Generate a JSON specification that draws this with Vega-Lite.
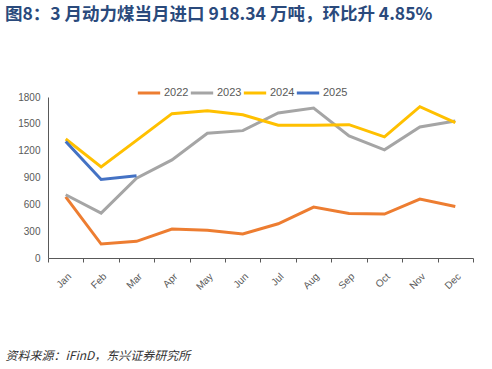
{
  "$schema": "https://vega.github.io/schema/vega-lite/v6.json",
  "width": 425,
  "height": 161,
  "autosize": {"type": "none"},
  "padding": {"left": 48, "top": 97, "right": 19, "bottom": 111},
  "background": "white",
  "title": {
    "text": "图8：3 月动力煤当月进口 918.34 万吨，环比升 4.85%",
    "anchor": "start",
    "frame": "group",
    "dx": -43,
    "offset": 57,
    "font": "Noto Sans CJK SC",
    "fontSize": 17.5,
    "fontWeight": "bold",
    "color": "#2A4A7C"
  },
  "config": {"view": {"stroke": null}},
  "data": {
    "values": [
      {"m": "Jan", "y": "2022", "v": 684}, {"m": "Feb", "y": "2022", "v": 156}, {"m": "Mar", "y": "2022", "v": 186},
      {"m": "Apr", "y": "2022", "v": 324}, {"m": "May", "y": "2022", "v": 309}, {"m": "Jun", "y": "2022", "v": 268},
      {"m": "Jul", "y": "2022", "v": 383}, {"m": "Aug", "y": "2022", "v": 569}, {"m": "Sep", "y": "2022", "v": 498},
      {"m": "Oct", "y": "2022", "v": 491}, {"m": "Nov", "y": "2022", "v": 658}, {"m": "Dec", "y": "2022", "v": 576},
      {"m": "Jan", "y": "2023", "v": 707}, {"m": "Feb", "y": "2023", "v": 502}, {"m": "Mar", "y": "2023", "v": 893},
      {"m": "Apr", "y": "2023", "v": 1097}, {"m": "May", "y": "2023", "v": 1395}, {"m": "Jun", "y": "2023", "v": 1424},
      {"m": "Jul", "y": "2023", "v": 1621}, {"m": "Aug", "y": "2023", "v": 1677}, {"m": "Sep", "y": "2023", "v": 1365},
      {"m": "Oct", "y": "2023", "v": 1209}, {"m": "Nov", "y": "2023", "v": 1465}, {"m": "Dec", "y": "2023", "v": 1532},
      {"m": "Jan", "y": "2024", "v": 1331}, {"m": "Feb", "y": "2024", "v": 1019}, {"m": "Mar", "y": "2024", "v": 1315},
      {"m": "Apr", "y": "2024", "v": 1614}, {"m": "May", "y": "2024", "v": 1647}, {"m": "Jun", "y": "2024", "v": 1602},
      {"m": "Jul", "y": "2024", "v": 1484}, {"m": "Aug", "y": "2024", "v": 1484}, {"m": "Sep", "y": "2024", "v": 1491},
      {"m": "Oct", "y": "2024", "v": 1354}, {"m": "Nov", "y": "2024", "v": 1692}, {"m": "Dec", "y": "2024", "v": 1514},
      {"m": "Jan", "y": "2025", "v": 1302}, {"m": "Feb", "y": "2025", "v": 878}, {"m": "Mar", "y": "2025", "v": 918.34}
    ]
  },
  "mark": {"type": "line", "strokeWidth": 3},
  "encoding": {
    "x": {
      "field": "m",
      "type": "ordinal",
      "sort": ["Jan", "Feb", "Mar", "Apr", "May", "Jun", "Jul", "Aug", "Sep", "Oct", "Nov", "Dec"],
      "scale": {"type": "band", "paddingInner": 0, "paddingOuter": 0},
      "axis": {
        "title": "资料来源：iFinD，东兴证券研究所",
        "titleFont": "Noto Sans CJK SC",
        "titleFontStyle": "italic",
        "titleFontWeight": "normal",
        "titleFontSize": 12,
        "titleColor": "#333333",
        "titleAnchor": "start",
        "titleAlign": "left",
        "titleBaseline": "middle",
        "titleX": -43,
        "titleY": 97,
        "tickBand": "extent",
        "tickSize": 4,
        "tickColor": "#595959",
        "domainColor": "#595959",
        "domainWidth": 1,
        "labelAngle": -45,
        "labelFont": "Liberation Sans",
        "labelFontSize": 10,
        "labelColor": "#595959",
        "labelPadding": 9,
        "grid": false
      }
    },
    "y": {
      "field": "v",
      "type": "quantitative",
      "scale": {"domain": [0, 1800]},
      "axis": {
        "title": null,
        "values": [0, 300, 600, 900, 1200, 1500, 1800],
        "format": "d",
        "ticks": false,
        "grid": false,
        "domainColor": "#595959",
        "labelFont": "Liberation Sans",
        "labelFontSize": 10,
        "labelColor": "#595959",
        "labelPadding": 8
      }
    },
    "color": {
      "field": "y",
      "type": "nominal",
      "scale": {"domain": ["2022", "2023", "2024", "2025"], "range": ["#ED7D31", "#A5A5A5", "#FFC000", "#4472C4"]},
      "legend": {
        "title": null,
        "orient": "none",
        "direction": "horizontal",
        "legendX": 88,
        "legendY": -17,
        "symbolType": "stroke",
        "symbolSize": 500,
        "symbolStrokeWidth": 3,
        "labelFont": "Liberation Sans",
        "labelFontSize": 11,
        "labelColor": "#595959",
        "labelOffset": 2,
        "columnPadding": -7
      }
    }
  }
}
